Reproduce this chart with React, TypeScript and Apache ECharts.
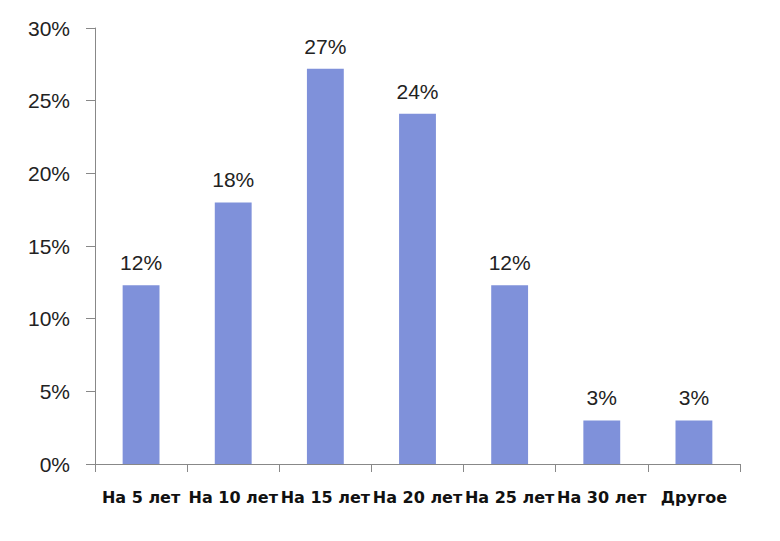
import React, { useEffect, useRef } from "react";
import * as echarts from "echarts";

const categories = ["На 5 лет", "На 10 лет", "На 15 лет", "На 20 лет", "На 25 лет", "На 30 лет", "Другое"];
const values = [12.3, 18.0, 27.2, 24.1, 12.3, 3.0, 3.0];

export default function App() {
  const ref = useRef<HTMLDivElement>(null);
  useEffect(() => {
    if (!ref.current) return;
    const chart = echarts.init(ref.current, undefined, { renderer: "svg" });
    chart.setOption({
      animation: false,
      grid: { left: 95, right: 40, top: 28, bottom: 77 },
      xAxis: {
        type: "category",
        data: categories,
        axisLine: { lineStyle: { color: "#888", width: 1 } },
        axisTick: { show: true, length: 8, alignWithLabel: false, lineStyle: { color: "#888" } },
        axisLabel: {
          interval: 0,
          margin: 25,
          color: "#111",
          fontFamily: "DejaVu Sans",
          fontWeight: "bold",
          fontSize: 16,
        },
      },
      yAxis: {
        type: "value",
        min: 0,
        max: 30,
        interval: 5,
        axisLine: { show: true, lineStyle: { color: "#888", width: 1 } },
        axisTick: { show: true, length: 9, lineStyle: { color: "#888" } },
        splitLine: { show: false },
        axisLabel: {
          formatter: "{value}%",
          margin: 25,
          color: "#222",
          fontFamily: "Liberation Sans",
          fontSize: 21,
        },
      },
      series: [
        {
          type: "bar",
          data: values,
          barWidth: "40%",
          itemStyle: { color: "#7f91da" },
          label: {
            show: true,
            position: "top",
            distance: 12,
            color: "#222",
            fontFamily: "Liberation Sans",
            fontSize: 21,
            formatter: (p: any) => Math.round(p.value) + "%",
          },
        },
      ],
    });
    return () => chart.dispose();
  }, []);
  return <div ref={ref} style={{ width: 780, height: 541, position: "absolute", left: 0, top: 0 }} />;
}
